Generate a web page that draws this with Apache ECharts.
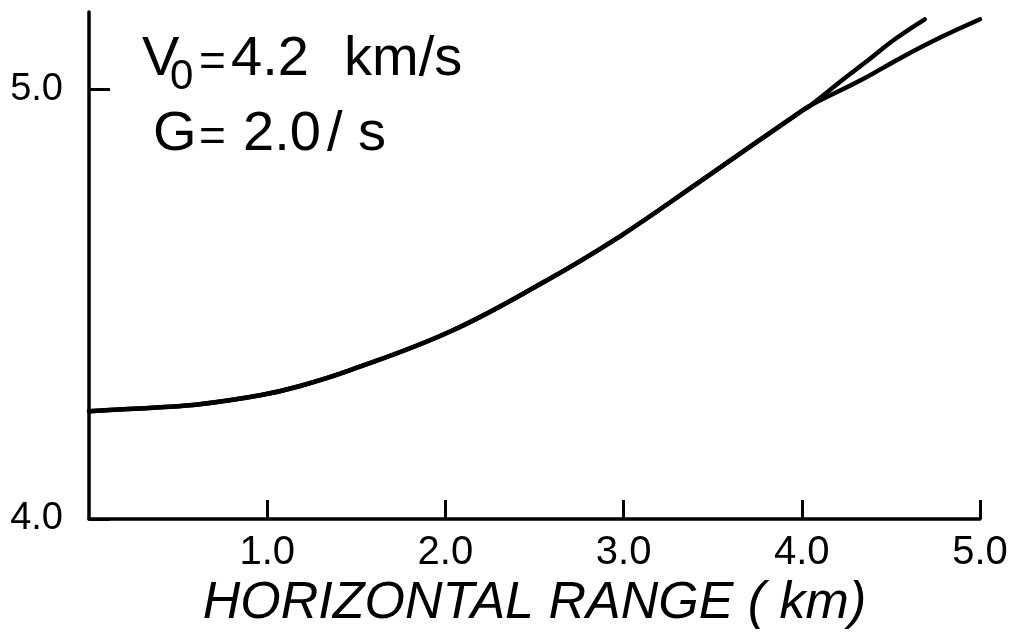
<!DOCTYPE html>
<html>
<head>
<meta charset="utf-8">
<script src="https://cdn.jsdelivr.net/npm/echarts@6/dist/echarts.min.js"></script>
<style>
  html, body { margin: 0; padding: 0; background: #fff; }
  #chart { width: 1018px; height: 641px; }
</style>
</head>
<body>
<div id="chart"></div>
<script>
// shared part of both curves (horizontal range km, velocity km/s)
const rangeMain = [0, 0.40, 0.62, 0.96, 1.18, 1.47, 2.03, 2.55, 2.98, 3.43, 3.99, 4.05];
const velMain = [4.251, 4.260, 4.267, 4.288, 4.309, 4.347, 4.437, 4.551, 4.658, 4.786, 4.947, 4.963];
// steeper branch
const rangeUpper = [4.21, 4.37, 4.52, 4.69];
const velUpper = [5.016, 5.067, 5.116, 5.163];
// flatter branch
const rangeLower = [4.33, 4.55, 4.78, 5.0];
const velLower = [5.021, 5.072, 5.121, 5.163];

const xTicks = [1, 2, 3, 4, 5];
const yTicks = [4, 5];

const FONT = "Liberation Sans";

function pairs(xs, ys) {
  return xs.map((x, i) => [x, ys[i]]);
}

const chart = echarts.init(document.getElementById("chart"));

const lineStyle = { color: "#000", width: 4.5, cap: "round", join: "round" };

// each branch is drawn as one smooth line that shares the main part
function curve(xs, ys) {
  return {
    type: "line",
    data: pairs(rangeMain, velMain).concat(pairs(xs, ys)),
    smooth: 0.4,
    showSymbol: false,
    lineStyle: lineStyle,
  };
}

function label(text, x, y, size) {
  return {
    type: "text",
    x: x,
    y: y,
    style: { text: text, font: size + "px " + FONT, fill: "#000", verticalAlign: "middle" },
  };
}

const option = {
  backgroundColor: "#fff",
  animation: false,
  grid: { left: 89, right: 38, top: 12, bottom: 122 },
  xAxis: {
    type: "value",
    min: 0,
    max: 5,
    interval: 1,
    name: "HORIZONTAL RANGE ( km)",
    nameLocation: "middle",
    nameGap: 58,
    nameTextStyle: {
      fontFamily: FONT,
      fontStyle: "italic",
      fontSize: 52,
      color: "#000",
    },
    splitLine: { show: false },
    axisLine: { show: true, onZero: false, lineStyle: { color: "#000", width: 3.5 } },
    axisTick: {
      show: true,
      inside: true,
      length: 19,
      customValues: xTicks,
      lineStyle: { color: "#000", width: 3 },
    },
    axisLabel: {
      customValues: xTicks,
      margin: 14,
      fontFamily: FONT,
      fontSize: 40,
      color: "#000",
      formatter: (v) => v.toFixed(1),
    },
  },
  yAxis: {
    type: "value",
    min: 4,
    max: 5.18,
    interval: 1,
    splitLine: { show: false },
    axisLine: { show: true, onZero: false, lineStyle: { color: "#000", width: 3.5 } },
    axisTick: {
      show: true,
      inside: true,
      length: 21,
      customValues: yTicks,
      lineStyle: { color: "#000", width: 3 },
    },
    axisLabel: {
      customValues: yTicks,
      margin: 26,
      fontFamily: FONT,
      fontSize: 38,
      color: "#000",
      formatter: (v) => v.toFixed(1),
    },
  },
  series: [
    curve(rangeUpper, velUpper),
    curve(rangeLower, velLower),
  ],
  graphic: [
    label("V", 142, 60, 56),
    label("0", 170, 77, 42),
    label("=", 199, 63, 46),
    label("4.2", 231, 60, 56),
    label("km/s", 344, 60, 56),
    label("G", 153, 135, 56),
    label("=", 199, 138, 46),
    label("2.0", 243, 135, 56),
    label("/ s", 327, 135, 56),
  ],
};

chart.setOption(option);
</script>
</body>
</html>
